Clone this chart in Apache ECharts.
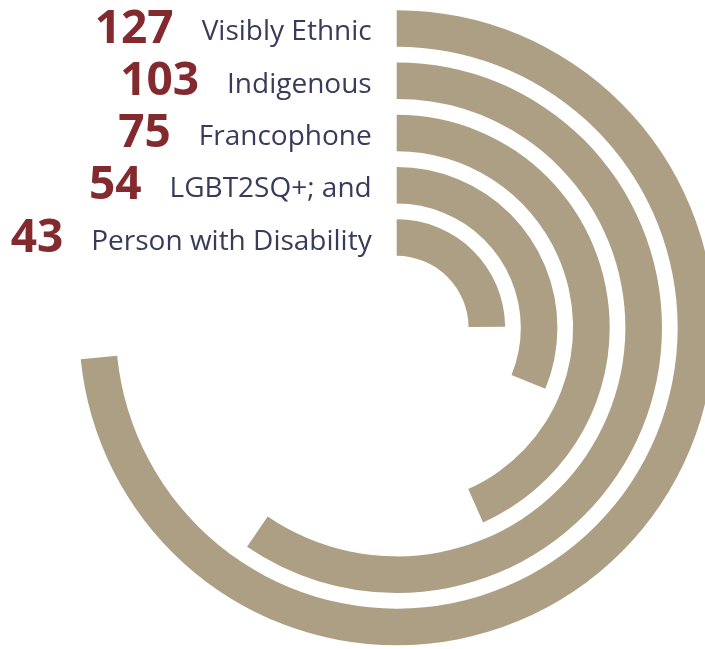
<!DOCTYPE html>
<html>
<head>
<meta charset="utf-8">
<script src="https://cdn.jsdelivr.net/npm/echarts@6/dist/echarts.min.js"></script>
<style>
  html, body { margin: 0; padding: 0; background: #ffffff; }
  #chart { width: 705px; height: 649px; }
</style>
</head>
<body>
<div id="chart"></div>
<script>
// Groups, listed from the outer ring to the inner ring
const categories = ['Visibly Ethnic', 'Indigenous', 'Francophone', 'LGBT2SQ+; and', 'Person with Disability'];
const counts = [127, 103, 75, 54, 43];
// Full circle corresponds to this count
const angleMax = 173;

const ringColor = '#ac9f83';
const numberColor = '#832a2f';
const textColor = '#383c5a';

const chart = echarts.init(document.getElementById('chart'), null, { renderer: 'canvas' });

chart.setOption({
  animation: false,
  backgroundColor: '#ffffff',
  polar: {
    center: [396.7, 327.7],
    radius: [64, 325.4]
  },
  angleAxis: {
    type: 'value',
    min: 0,
    max: angleMax,
    startAngle: 90,
    clockwise: true,
    axisLine: { show: false },
    axisTick: { show: false },
    axisLabel: { show: false },
    splitLine: { show: false }
  },
  radiusAxis: {
    type: 'category',
    data: categories,
    inverse: true,
    axisLine: { show: false },
    axisTick: { show: false },
    splitLine: { show: false },
    axisLabel: {
      interval: 0,
      margin: 25,
      formatter: function (value, index) {
        return '{n|' + counts[index] + '}{t|' + value + '}';
      },
      rich: {
        n: {
          fontFamily: 'Open Sans',
          fontWeight: 'bold',
          fontSize: 46,
          color: numberColor,
          lineHeight: 50,
          padding: [2, 0, 0, 0]
        },
        t: {
          fontFamily: 'Open Sans',
          fontSize: 28,
          color: textColor,
          padding: [8, 0, 0, 28]
        }
      }
    }
  },
  series: [{
    type: 'bar',
    coordinateSystem: 'polar',
    data: counts,
    barWidth: '70%',
    itemStyle: { color: ringColor },
    silent: true
  }]
});
</script>
</body>
</html>
